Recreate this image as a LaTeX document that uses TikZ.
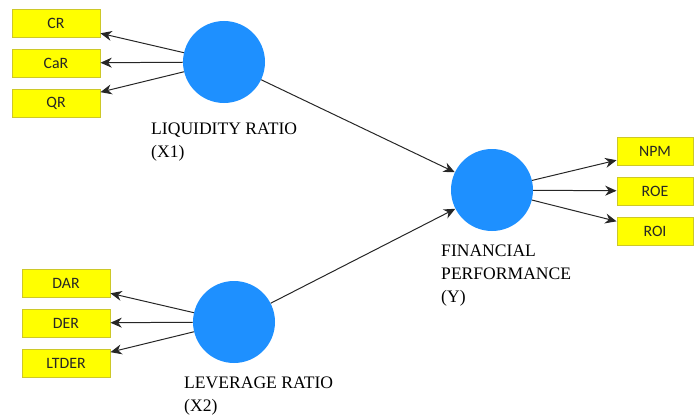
\documentclass[tikz,border=0pt]{standalone}
\usepackage{fontspec}
\setmainfont{Liberation Serif}
\newfontfamily\boxfont{Carlito}
\newfontfamily\labelfont{Liberation Serif}
\usetikzlibrary{arrows.meta}
\definecolor{latblue}{RGB}{30,144,255}
\definecolor{indyellow}{RGB}{255,255,0}
\definecolor{indborder}{RGB}{205,200,40}
\begin{document}
\begin{tikzpicture}[
  x=0.03cm, y=-0.03cm,
  latent/.style={circle, fill=latblue, draw=none, inner sep=0pt, minimum size=2.46cm},
  indicator/.style={rectangle, fill=indyellow, draw=indborder, thick, inner sep=0pt,
    minimum width=2.64cm, minimum height=0.84cm, font=\boxfont\fontsize{13.5}{15}\selectfont, text=black!85},
  indright/.style={indicator, minimum width=2.28cm},
  load/.style={-{Stealth[length=3.4mm, width=3mm]}, line width=0.85pt, draw=black!85},
  latlabel/.style={align=left, anchor=north west, inner sep=0pt, font=\labelfont\fontsize{15}{19.5}\selectfont}
]
  \useasboundingbox (0,0) rectangle (694,416);

  % Variables latentes
  \node[latent] (x1) at (224,62) {};   % Liquidez
  \node[latent] (x2) at (234,322) {};  % Apalancamiento
  \node[latent] (y) at (492,190) {};   % Desempeno financiero

  % Indicadores X1
  \node[indicator] (cr) at (56,23) {CR};
  \node[indicator] (car) at (56,63) {CaR};
  \node[indicator] (qr) at (56,103) {QR};

  % Indicadores X2
  \node[indicator] (dar) at (66,283) {DAR};
  \node[indicator] (der) at (66,323) {DER};
  \node[indicator] (ltder) at (66,363) {LTDER};

  % Indicadores Y
  \node[indright] (npm) at (655,151) {NPM};
  \node[indright] (roe) at (655,191) {ROE};
  \node[indright] (roi) at (655,231) {ROI};

  % Cargas
  \draw[load] (x1) -- (cr);
  \draw[load] (x1) -- (car);
  \draw[load] (x1) -- (qr);
  \draw[load] (x2) -- (dar);
  \draw[load] (x2) -- (der);
  \draw[load] (x2) -- (ltder);
  \draw[load] (y) -- (npm);
  \draw[load] (y) -- (roe);
  \draw[load] (y) -- (roi);

  % Caminos estructurales
  \draw[load] (x1) -- (y);
  \draw[load] (x2) -- (y);

  % Etiquetas
  \node[latlabel] (lx1) at (151,123) {LIQUIDITY RATIO\\(X1)};
  \node[latlabel] (lx2) at (184,377) {LEVERAGE RATIO\\(X2)};
  \node[latlabel] (ly) at (441,245) {FINANCIAL\\PERFORMANCE\\(Y)};
\end{tikzpicture}
\end{document}
